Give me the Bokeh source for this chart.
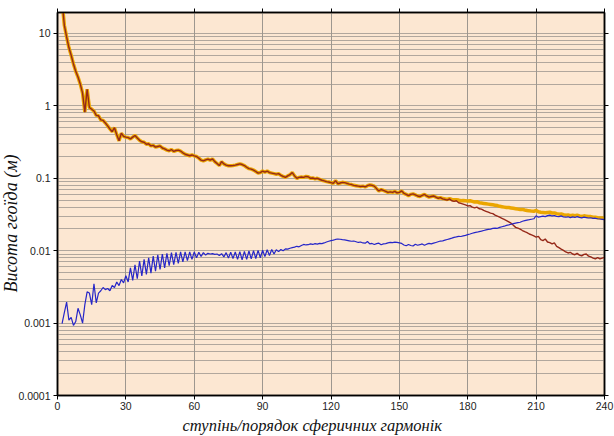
from bokeh.plotting import figure
from bokeh.models import FixedTicker, LogAxis, LinearAxis, Title
from bokeh.embed import file_html
from bokeh.resources import INLINE

# ---------------- data ----------------
degrees = list(range(2, 241))

signal = [
    28, 13, 9.0, 6.4, 5.0, 3.8, 3.0, 2.5,                                   # 2-9
    2.0, 1.5, 0.82, 1.7, 0.95, 0.9, 0.85, 0.74, 0.73, 0.64,                 # 10-19
    0.63, 0.58, 0.53, 0.48, 0.44, 0.50, 0.40, 0.33, 0.42, 0.38,             # 20-29
    0.37, 0.365, 0.35, 0.37, 0.39, 0.36, 0.335, 0.32, 0.315, 0.295,         # 30-39
    0.30, 0.28, 0.285, 0.27, 0.275, 0.28, 0.262, 0.255, 0.245, 0.24,        # 40-49
    0.25, 0.235, 0.242, 0.245, 0.238, 0.225, 0.215, 0.21, 0.205, 0.21,      # 50-59
    0.204, 0.2, 0.19, 0.178, 0.174, 0.18, 0.184, 0.178, 0.185, 0.17,        # 60-69
    0.16, 0.15, 0.17, 0.158, 0.152, 0.149, 0.149, 0.15, 0.152, 0.155,       # 70-79
    0.158, 0.155, 0.15, 0.142, 0.136, 0.134, 0.13, 0.124, 0.118, 0.12,      # 80-89
    0.126, 0.122, 0.126, 0.12, 0.118, 0.116, 0.114, 0.116, 0.11, 0.106,     # 90-99
    0.103, 0.108, 0.112, 0.12, 0.108, 0.1, 0.103, 0.104, 0.103, 0.106,      # 100-109
    0.105, 0.1, 0.101, 0.098, 0.1, 0.097, 0.094, 0.092, 0.09, 0.089,        # 110-119
    0.087, 0.085, 0.093, 0.084, 0.086, 0.088, 0.087, 0.085, 0.083, 0.082,   # 120-129
    0.08, 0.079, 0.078, 0.077, 0.078, 0.076, 0.079, 0.081, 0.08, 0.078,     # 130-139
    0.072, 0.067, 0.07, 0.068, 0.066, 0.064, 0.065, 0.064, 0.066, 0.063,    # 140-149
    0.064, 0.067, 0.062, 0.06, 0.0575, 0.06, 0.061, 0.059, 0.057, 0.056,    # 150-159
    0.058, 0.06, 0.057, 0.055, 0.056, 0.057, 0.055, 0.053, 0.054, 0.052,    # 160-169
    0.051, 0.05, 0.052, 0.049, 0.048, 0.049, 0.046, 0.045, 0.044, 0.043,    # 170-179
    0.0415, 0.042, 0.04, 0.039, 0.04, 0.038, 0.0375, 0.036, 0.035, 0.034,   # 180-189
    0.033, 0.0325, 0.031, 0.03, 0.029, 0.028, 0.027, 0.026, 0.025, 0.024,   # 190-199
    0.0225, 0.021, 0.0205, 0.0199, 0.019, 0.0183, 0.0178, 0.017, 0.0165, 0.016,      # 200-209
    0.0154, 0.0158, 0.0142, 0.0138, 0.0145, 0.0132, 0.0129, 0.0124, 0.0128, 0.0115,  # 210-219
    0.011, 0.0105, 0.0101, 0.0096, 0.0093, 0.0095, 0.009, 0.0088, 0.0092, 0.0087,    # 220-229
    0.0085, 0.0089, 0.009, 0.0084, 0.0082, 0.0079, 0.0077, 0.008, 0.0077, 0.0079,    # 230-239
    0.0081,                                                                          # 240
]

# total curve: coincides with the signal curve up to degree 165, then read separately
total_tail = [
    0.055, 0.0535, 0.054, 0.0525,                                                    # 166-169
    0.052, 0.051, 0.0525, 0.051, 0.0505, 0.0505, 0.05, 0.049, 0.0495, 0.049,         # 170-179
    0.0485, 0.049, 0.048, 0.047, 0.0475, 0.046, 0.0455, 0.045, 0.0445, 0.044,        # 180-189
    0.0435, 0.043, 0.0425, 0.042, 0.041, 0.0405, 0.04, 0.0395, 0.0395, 0.039,        # 190-199
    0.0385, 0.038, 0.0375, 0.037, 0.0372, 0.0365, 0.036, 0.0355, 0.0352, 0.035,      # 200-209
    0.036, 0.0345, 0.034, 0.0338, 0.0335, 0.0338, 0.034, 0.0332, 0.0333, 0.0325,     # 210-219
    0.032, 0.0322, 0.0315, 0.031, 0.0312, 0.0305, 0.031, 0.0305, 0.031, 0.0303,      # 220-229
    0.0298, 0.0303, 0.03, 0.0296, 0.0296, 0.029, 0.029, 0.0286, 0.0284, 0.0282,      # 230-239
    0.0279,                                                                          # 240
]
total = signal[:164] + total_tail

error = [
    0.00098, 0.0014, 0.00195, 0.0011, 0.0012, 0.00093, 0.00105, 0.0016,                  # 2-9
    0.0013, 0.001, 0.0018, 0.0027, 0.0026, 0.0018, 0.0035, 0.0019, 0.0026, 0.0028,       # 10-19
    0.0031, 0.0029, 0.003, 0.0028, 0.0033, 0.0031, 0.0037, 0.0033, 0.004, 0.0036,        # 20-29
    0.0045, 0.0037, 0.0058, 0.0039, 0.0064, 0.0041, 0.0072, 0.0045, 0.0076, 0.0047,      # 30-39
    0.008, 0.0049, 0.0084, 0.0052, 0.0088, 0.0055, 0.009, 0.0058, 0.0092, 0.0062,        # 40-49
    0.0094, 0.0064, 0.0095, 0.0067, 0.0096, 0.007, 0.0096, 0.0073, 0.0096, 0.0076,       # 50-59
    0.0096, 0.008, 0.0095, 0.0083, 0.0094, 0.0087, 0.0092, 0.009, 0.0091, 0.0089,        # 60-69
    0.009, 0.0086, 0.0091, 0.0082, 0.0094, 0.0079, 0.0095, 0.0078, 0.0096, 0.0076,       # 70-79
    0.0097, 0.0075, 0.0098, 0.0076, 0.0099, 0.0077, 0.01, 0.0078, 0.0101, 0.008,         # 80-89
    0.0102, 0.0083, 0.0103, 0.0086, 0.0104, 0.009, 0.0103, 0.0097, 0.0104, 0.01,         # 90-99
    0.0106, 0.0105, 0.0108, 0.011, 0.0112, 0.0115, 0.0113, 0.0118, 0.0122, 0.012,        # 100-109
    0.0121, 0.0124, 0.0122, 0.0125, 0.0123, 0.0126, 0.0125, 0.0128, 0.0132, 0.0135,      # 110-119
    0.0138, 0.014, 0.0143, 0.0145, 0.0144, 0.0142, 0.0141, 0.0139, 0.0137, 0.0135,       # 120-129
    0.0136, 0.0133, 0.013, 0.0132, 0.0128, 0.0127, 0.0134, 0.0124, 0.0126, 0.0122,       # 130-139
    0.0125, 0.0127, 0.0121, 0.0124, 0.0125, 0.0128, 0.013, 0.0129, 0.0131, 0.013,        # 140-149
    0.0128, 0.0126, 0.012, 0.0117, 0.0122, 0.0118, 0.0116, 0.0123, 0.0119, 0.0121,       # 150-159
    0.0124, 0.0119, 0.0123, 0.0126, 0.0124, 0.0127, 0.013, 0.0133, 0.0136, 0.0137,       # 160-169
    0.014, 0.0143, 0.0146, 0.0149, 0.0153, 0.0155, 0.0158, 0.0157, 0.016, 0.0163,        # 170-179
    0.0167, 0.017, 0.0174, 0.0178, 0.018, 0.0183, 0.0186, 0.019, 0.0194, 0.0197,         # 180-189
    0.0199, 0.0203, 0.0205, 0.0204, 0.021, 0.0214, 0.0218, 0.0224, 0.0227, 0.0232,       # 190-199
    0.0236, 0.024, 0.0244, 0.0247, 0.0255, 0.026, 0.0265, 0.0268, 0.0272, 0.0276,        # 200-209
    0.0304, 0.029, 0.0295, 0.03, 0.0296, 0.0305, 0.031, 0.0302, 0.0306, 0.0298,          # 210-219
    0.0295, 0.0303, 0.0292, 0.029, 0.0294, 0.0286, 0.0293, 0.0288, 0.0296, 0.0289,       # 220-229
    0.0284, 0.0291, 0.0287, 0.0283, 0.0285, 0.0279, 0.0281, 0.0276, 0.0274, 0.0271,      # 230-239
    0.0268,                                                                              # 240
]

assert len(signal) == len(degrees) == len(total) == len(error)

x_ticks = [0, 30, 60, 90, 120, 150, 180, 210, 240]
y_ticks = [0.0001, 0.001, 0.01, 0.1, 1, 10]
y_tick_labels = ["0.0001", "0.001", "0.01", "0.1", "1", "10"]
x_title = "ступінь/порядок сферичних гармонік"
y_title = "Висота геоїда (м)"

# ---------------- figure ----------------
BG = "#fce7d2"
GRID = "#9d978f"
TICK_FONT = "Liberation Sans"
TITLE_FONT = "Liberation Serif"

p = figure(width=614, height=436, y_axis_type="log",
           x_range=(0, 240), y_range=(0.0001, 19.5),
           output_backend="svg", toolbar_location=None,
           min_border_left=57, min_border_right=10,
           min_border_top=12, min_border_bottom=41)
p.background_fill_color = BG
p.border_fill_color = "white"
p.outline_line_color = "black"
p.outline_line_width = 1.5

minor_y = [m * 10.0 ** e for e in range(-4, 2) for m in range(2, 10)]
xt = FixedTicker(ticks=x_ticks)
yt = FixedTicker(ticks=y_ticks, minor_ticks=minor_y)

p.xaxis.ticker = xt
p.yaxis.ticker = yt
p.yaxis.major_label_overrides = dict(zip(y_ticks, y_tick_labels))

for ax in (p.xaxis[0], p.yaxis[0]):
    ax.axis_line_color = "black"
    ax.axis_line_width = 1.5
    ax.major_tick_line_color = "black"
    ax.major_tick_out = 4
    ax.major_tick_in = 0
    ax.minor_tick_line_color = None
    ax.major_label_text_font = TICK_FONT
    ax.major_label_text_font_size = "10.5px"
    ax.major_label_text_color = "#222222"
p.xaxis.major_label_standoff = 2
p.yaxis.major_label_standoff = 3

right_ax = LogAxis(ticker=yt, major_label_text_font_size="0px", major_label_standoff=0,
                   axis_line_color="black", axis_line_width=1.5,
                   major_tick_out=4, major_tick_in=0, minor_tick_line_color=None)
right_ax.major_label_text_color = None
top_ax = LinearAxis(ticker=xt, major_label_text_font_size="0px", major_label_standoff=0,
                    axis_line_color="black", axis_line_width=1.5,
                    major_tick_out=4, major_tick_in=0, minor_tick_line_color=None)
top_ax.major_label_text_color = None
p.add_layout(right_ax, "right")
p.add_layout(top_ax, "above")

p.xgrid.ticker = xt
p.ygrid.ticker = yt
p.xgrid.grid_line_color = GRID
p.xgrid.grid_line_width = 1
p.ygrid.grid_line_color = GRID
p.ygrid.grid_line_width = 0.8
p.ygrid.minor_grid_line_color = GRID
p.ygrid.minor_grid_line_width = 0.8

# ---------------- lines ----------------
p.line(degrees, total, line_color="#eba600", line_width=3.5)
p.line(degrees, signal, line_color="#962818", line_width=1.4)
p.line(degrees, error, line_color="#2626c8", line_width=1.2)

# ---------------- axis titles (as side titles, placed like the original) ----------------
p.add_layout(Title(text=y_title, align="left", offset=103, standoff=-10,
                   text_font=TITLE_FONT, text_font_style="italic",
                   text_font_size="18px", text_color="#111111"), "left")
p.add_layout(Title(text=x_title, align="left", offset=125, standoff=2,
                   text_font=TITLE_FONT, text_font_style="italic",
                   text_font_size="16.5px", text_color="#111111"), "below")

open("out.html", "w").write(file_html(p, INLINE))
